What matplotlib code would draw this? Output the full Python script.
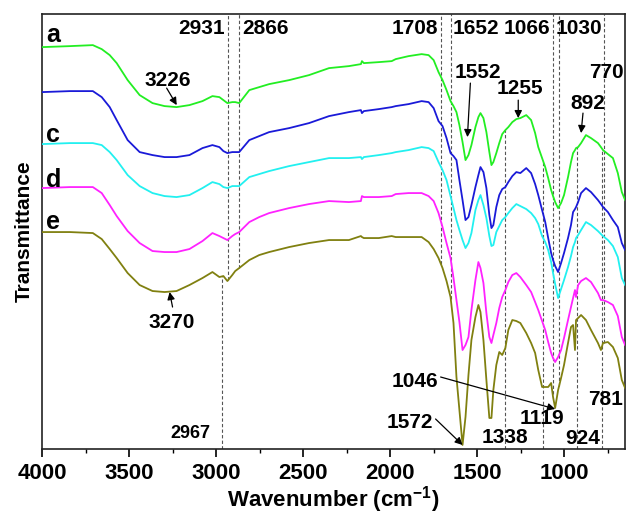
import numpy as np
import matplotlib
matplotlib.use("Agg")
import matplotlib.pyplot as plt
from matplotlib.ticker import MultipleLocator

plt.rcParams['font.family'] = ['Liberation Sans', 'DejaVu Sans']
plt.rcParams['font.weight'] = 'bold'
plt.rcParams['mathtext.fontset'] = 'custom'
plt.rcParams['mathtext.rm'] = 'Liberation Sans:bold'
plt.rcParams['mathtext.default'] = 'rm'

# FTIR spectra (transmittance in arbitrary units, stacked)
wavenumber = [4000, 3840, 3708, 3657, 3611, 3571, 3508, 3439, 3365, 3296,
              3227, 3153, 3078, 3021, 2981, 2958, 2935, 2907, 2890, 2867,
              2809, 2752, 2695, 2580, 2466, 2351, 2237, 2168, 2162, 2151,
              2065, 1991, 1968, 1894, 1819, 1779, 1750, 1722, 1699, 1676,
              1653, 1636, 1619, 1602, 1584, 1567, 1550, 1533, 1510, 1493,
              1481, 1464, 1447, 1430, 1418, 1407, 1390, 1373, 1356, 1338,
              1321, 1298, 1275, 1252, 1218, 1190, 1167, 1149, 1127, 1109,
              1092, 1075, 1064, 1052, 1035, 1018, 1001, 978, 961, 949,
              938, 932, 920, 903, 875, 846, 806, 789, 777, 749,
              720, 692, 669, 650]

trans_a = [402, 403, 404, 400, 394, 386, 369, 354, 346, 343,
           342, 344, 348, 353, 352, 349, 346, 347, 347, 346,
           359, 362, 365, 369, 374, 381, 383, 385, 388, 386,
           387, 388, 390, 393, 395, 394, 389, 377, 369, 359,
           348, 343, 337, 324, 307, 289, 294, 304, 322, 332,
           336, 331, 317, 297, 284, 287, 296, 306, 315, 319,
           322, 327, 330, 331, 334, 329, 316, 302, 291, 282,
           271, 259, 253, 247, 241, 246, 254, 272, 287, 296,
           299, 301, 302, 306, 314, 311, 306, 302, 299, 295,
           291, 276, 257, 249]

trans_b = [357, 358, 358, 352, 342, 329, 309, 297, 294, 292,
           292, 294, 301, 304, 302, 298, 296, 297, 297, 297,
           309, 313, 317, 321, 326, 333, 337, 339, 336, 338,
           340, 342, 343, 345, 348, 347, 341, 328, 323, 311,
           296, 293, 289, 269, 249, 229, 232, 244, 262, 274,
           282, 277, 261, 234, 221, 224, 242, 254, 260, 262,
           267, 273, 277, 276, 281, 276, 265, 254, 239, 227,
           211, 196, 189, 183, 177, 186, 196, 211, 224, 237,
           240, 242, 247, 256, 261, 257, 249, 245, 242, 237,
           229, 222, 206, 199]

trans_c = [305, 306, 306, 304, 297, 289, 274, 263, 256, 253,
           252, 254, 261, 267, 265, 262, 261, 263, 263, 263,
           272, 275, 278, 283, 287, 291, 291, 292, 290, 292,
           294, 296, 297, 299, 302, 301, 298, 287, 279, 269,
           253, 241, 229, 219, 209, 201, 206, 216, 239, 249,
           254, 244, 231, 213, 203, 204, 217, 223, 229, 232,
           236, 241, 245, 243, 240, 236, 231, 225, 213, 207,
           199, 187, 176, 165, 151, 160, 169, 182, 193, 202,
           207, 211, 214, 219, 227, 224, 218, 215, 213, 209,
           203, 192, 171, 164]

trans_d = [261, 262, 262, 256, 244, 233, 218, 206, 198, 197,
           197, 200, 208, 216, 213, 211, 209, 213, 215, 217,
           227, 232, 236, 241, 245, 248, 247, 248, 253, 252,
           252, 253, 255, 256, 256, 253, 248, 236, 222, 206,
           191, 171, 149, 127, 99, 104, 112, 139, 169, 187,
           181, 166, 136, 112, 106, 114, 126, 141, 152, 159,
           167, 174, 176, 172, 164, 157, 147, 139, 128, 119,
           107, 96, 91, 87, 92, 99, 111, 129, 142, 151,
           159, 152, 164, 168, 171, 167, 156, 149, 149, 147,
           144, 133, 112, 104]

trans_e = [217, 217, 216, 210, 200, 191, 176, 164, 158, 157,
           158, 164, 171, 177, 172, 173, 168, 174, 178, 181,
           189, 194, 197, 202, 206, 209, 209, 213, 212, 211,
           211, 213, 212, 212, 212, 207, 200, 191, 181, 168,
           152, 126, 72, 39, 4, 32, 74, 109, 132, 144,
           137, 109, 69, 31, 31, 59, 84, 97, 94, 101,
           119, 129, 128, 126, 116, 106, 96, 79, 62, 62,
           62, 66, 52, 41, 59, 71, 84, 106, 122, 124,
           99, 129, 131, 134, 129, 119, 106, 99, 106, 107,
           102, 91, 69, 61]

labels = ['a', 'b', 'c', 'd', 'e']
colors = ['#22EE22', '#1A1AD8', '#22F0F0', '#FF22FF', '#808010']
series = [trans_a, trans_b, trans_c, trans_d, trans_e]

top_marks = [2931, 2866, 1708, 1652, 1066, 1030, 770]      # dashed from top down to curve e
bottom_marks = [2967, 1338, 1119, 924, 781]                 # dashed from bottom up
bottom_stop = ['e', 'a', 'a', 'a', 'a']

fig = plt.figure(figsize=(6.27, 5.14), dpi=100)
ax = fig.add_axes([0.067, 0.1265, 0.930, 0.846])

for y, c in zip(series, colors):
    ax.plot(wavenumber, y, color=c, lw=1.3, zorder=3)

wn_asc = wavenumber[::-1]
ymax = 435
dash = dict(color='#555555', lw=0.8, linestyle=(0, (3, 2)), zorder=1)
for w in top_marks:
    ax.vlines(w, np.interp(w, wn_asc, trans_e[::-1]), ymax, **dash)
for w, s in zip(bottom_marks, bottom_stop):
    ax.vlines(w, 0, np.interp(w, wn_asc, series[labels.index(s)][::-1]), **dash)

# curve letters (no label on curve b in the original)
for name, yl in [('a', 414), ('c', 314), ('d', 269), ('e', 227)]:
    ax.text(3975, yl, name, fontsize=18, fontweight='bold', ha='left', va='center')

fs = 15
ax.text(2950, 421, '2931', fontsize=fs, ha='right', va='center')
ax.text(2850, 421, '2866', fontsize=fs, ha='left', va='center')
ax.text(1722, 421, '1708', fontsize=fs, ha='right', va='center')
ax.text(1640, 421, '1652', fontsize=fs, ha='left', va='center')
ax.text(1080, 421, '1066', fontsize=fs, ha='right', va='center')
ax.text(1048, 421, '1030', fontsize=fs, ha='left', va='center')
ax.text(757, 377, '770', fontsize=fs, ha='center', va='center')

ax.text(3279, 369, '3226', fontsize=fs, ha='center', va='center')
ax.text(1493, 377, '1552', fontsize=fs, ha='center', va='center')
ax.text(1252, 361, '1255', fontsize=fs, ha='center', va='center')
ax.text(863, 346, '892', fontsize=fs, ha='center', va='center')
ax.text(3256, 127, '3270', fontsize=fs, ha='center', va='center')
ax.text(3147, 15, '2967', fontsize=13, ha='center', va='center')
ax.text(1859, 68, '1046', fontsize=fs, ha='center', va='center')
ax.text(1888, 26, '1572', fontsize=fs, ha='center', va='center')
ax.text(1338, 11, '1338', fontsize=fs, ha='center', va='center')
ax.text(1127, 30, '1119', fontsize=fs, ha='center', va='center')
ax.text(892, 10, '924', fontsize=fs, ha='center', va='center')
ax.text(760, 49, '781', fontsize=fs, ha='center', va='center')

arrow = dict(arrowstyle='-|>', color='black', lw=0.9, mutation_scale=11, shrinkA=0, shrinkB=0)
for tail, tip in [((3284, 361), (3226, 344)),
                  ((1539, 366), (1556, 312)),
                  ((1264, 349), (1264, 331)),
                  ((892, 336), (903, 316)),
                  ((3250, 142), (3267, 157)),
                  ((1710, 72), (1052, 40)),
                  ((1739, 30), (1584, 4))]:
    ax.annotate('', xy=tip, xytext=tail, arrowprops=arrow, zorder=4)

ax.set_xlim(4000, 650)
ax.set_ylim(0, ymax)
ax.xaxis.set_major_locator(MultipleLocator(500))
ax.xaxis.set_minor_locator(MultipleLocator(250))
ax.tick_params(axis='x', which='major', direction='out', length=6, width=1.2,
               labelsize=16, pad=4)
ax.tick_params(axis='x', which='minor', direction='out', length=3, width=1.0)
ax.set_yticks([])
for sp in ax.spines.values():
    sp.set_linewidth(1.2)
    sp.set_color('#222222')

ax.set_xlabel('Wavenumber (cm$^{-1}$)', fontsize=16, fontweight='bold', labelpad=0)
ax.set_ylabel('Transmittance', fontsize=15, fontweight='bold', labelpad=6)

fig.savefig('out.png', dpi=100)
